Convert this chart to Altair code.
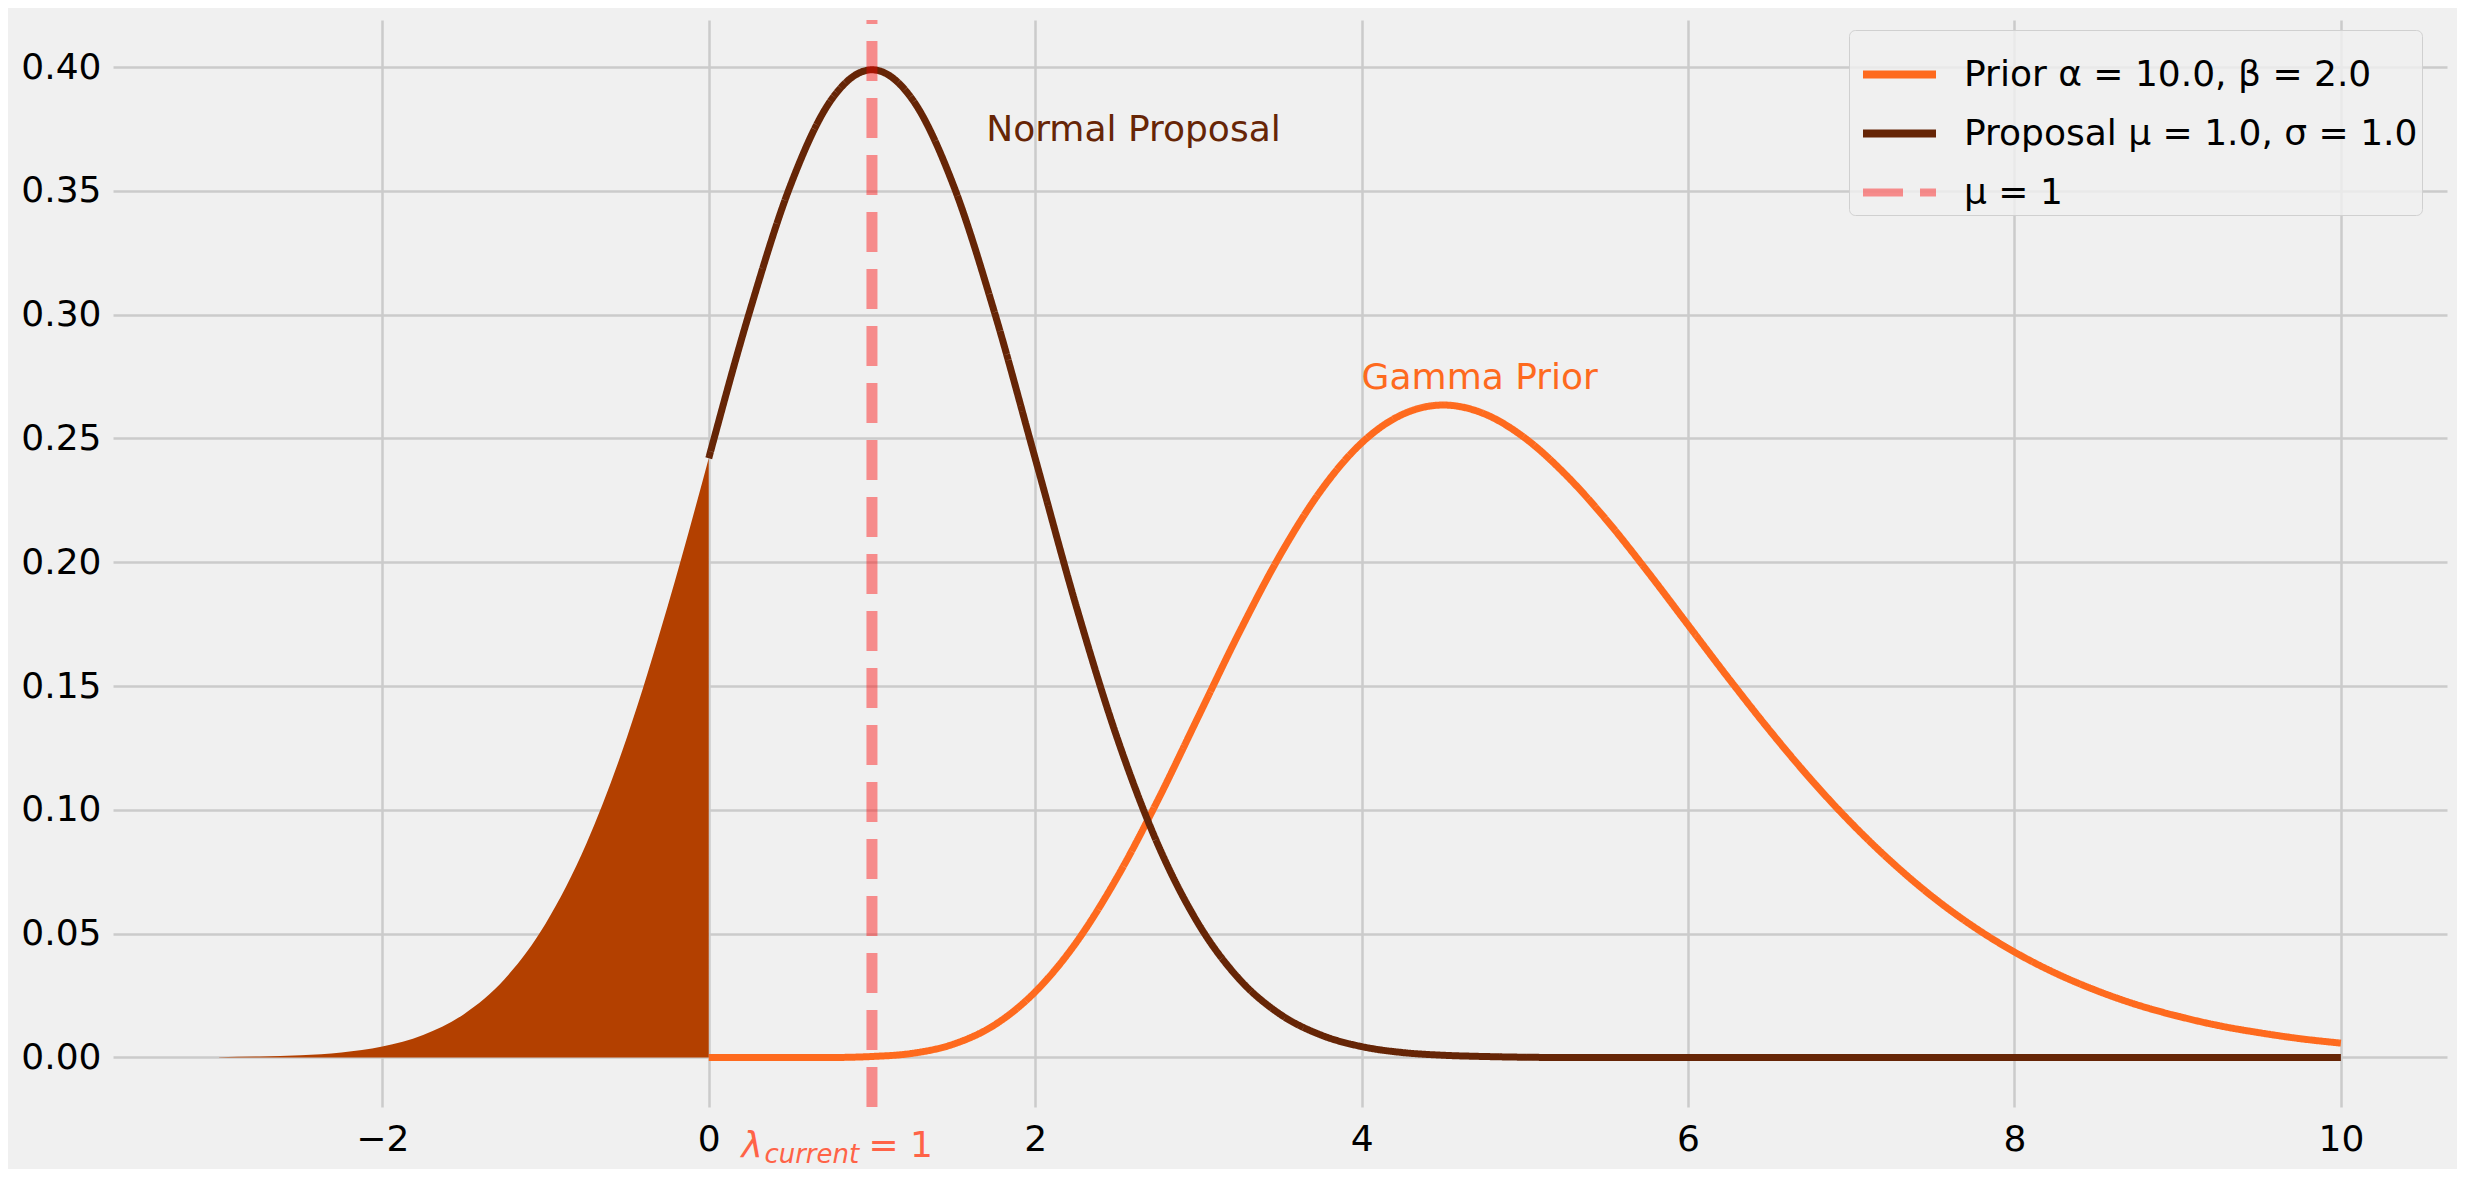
import altair as alt
import pandas as pd

# ---- data ----
FILL_X = [-3.0, -2.75, -2.5, -2.25, -2.0, -1.75, -1.5, -1.25, -1.0, -0.75, -0.5, -0.25, 0.0]
FILL_Y = [0.0001, 0.0004, 0.0009, 0.0020, 0.0044, 0.0091, 0.0175, 0.0317, 0.0540,
          0.0863, 0.1295, 0.1826, 0.2420]

CURVE_X = [0.0, 0.25, 0.5, 0.75, 1.0, 1.25, 1.5, 1.75, 2.0, 2.25, 2.5, 2.75, 3.0, 3.25,
           3.5, 3.75, 4.0, 4.25, 4.5, 4.75, 5.0, 5.25, 5.5, 5.75, 6.0, 6.25, 6.5, 6.75,
           7.0, 7.25, 7.5, 7.75, 8.0, 8.25, 8.5, 8.75, 9.0, 9.25, 9.5, 9.75, 10.0]
PRIOR = [0.0, 0.0, 0.0, 0.0, 0.0004, 0.0017, 0.0054, 0.0131, 0.0265, 0.0463, 0.0725,
         0.1037, 0.1377, 0.1716, 0.2028, 0.2289, 0.2482, 0.2597, 0.2635, 0.2600, 0.2502,
         0.2354, 0.2171, 0.1964, 0.1747, 0.1530, 0.1321, 0.1125, 0.0947, 0.0788, 0.0648,
         0.0528, 0.0426, 0.0341, 0.0271, 0.0213, 0.0167, 0.0129, 0.0100, 0.0076, 0.0058]
PROPOSAL = [0.2420, 0.3011, 0.3521, 0.3867, 0.3989, 0.3867, 0.3521, 0.3011, 0.2420,
            0.1826, 0.1295, 0.0863, 0.0540, 0.0317, 0.0175, 0.0091, 0.0044, 0.0020,
            0.0009, 0.0004, 0.0001, 0.0, 0.0, 0.0, 0.0, 0.0, 0.0, 0.0, 0.0, 0.0, 0.0,
            0.0, 0.0, 0.0, 0.0, 0.0, 0.0, 0.0, 0.0, 0.0, 0.0]

SERIES = ["Prior α = 10.0, β = 2.0", "Proposal μ = 1.0, σ = 1.0", "μ = 1"]
VLINE_X = [1.0]

ANNOT_PROPOSAL = {"x": [1.7], "y": [0.37], "label": ["Normal Proposal"]}
ANNOT_PRIOR = {"x": [4.0], "y": [0.27], "label": ["Gamma Prior"]}
LAMBDA_POS = {"x": [0.2], "y": [-0.04]}

X_TICKS = [-2, 0, 2, 4, 6, 8, 10]
Y_TICKS = [0.0, 0.05, 0.10, 0.15, 0.20, 0.25, 0.30, 0.35, 0.40]
X_DOMAIN = [-3.65, 10.65]
Y_DOMAIN = [-0.02, 0.419]

# ---- styles ----
ORANGE = "#fe6a1e"
BROWN = "#662506"
FILL = "#b34000"
VLINE = "rgba(255,0,0,0.42)"
TOMATO = "#ff6347"
FONT = "DejaVu Sans"
FS = 36

curves = pd.DataFrame({
    "x": CURVE_X + CURVE_X,
    "y": PRIOR + PROPOSAL,
    "series": [SERIES[0]] * len(CURVE_X) + [SERIES[1]] * len(CURVE_X),
})
fill_df = pd.DataFrame({"x": FILL_X, "y": FILL_Y})
vline_df = pd.DataFrame({"x": VLINE_X, "y": [Y_DOMAIN[0]], "y2": [Y_DOMAIN[1]],
                         "series": [SERIES[2]]})

xscale = alt.Scale(domain=X_DOMAIN, nice=False, zero=False)
yscale = alt.Scale(domain=Y_DOMAIN, nice=False, zero=False)
xaxis = alt.Axis(values=X_TICKS, title=None, format="d", labelPadding=15)
yaxis = alt.Axis(values=Y_TICKS, title=None, format=".2f", labelPadding=12)

legend = alt.Legend(
    title=None, orient="none", legendX=1736, legendY=10,
    symbolType="stroke", symbolSize=5329, symbolStrokeWidth=8,
    symbolOffset=6, labelOffset=24, padding=4, rowPadding=0,
    labelFontSize=FS, labelFont=FONT, labelColor="black", labelLimit=1000,
    fillColor="rgba(240,240,240,0.8)", strokeColor="#d0d0d0", cornerRadius=6,
)
color = alt.Color("series:N", scale=alt.Scale(domain=SERIES, range=[ORANGE, BROWN, VLINE]),
                  legend=legend)
dash = alt.StrokeDash("series:N", scale=alt.Scale(domain=SERIES, range=[[1, 0], [1, 0], [40, 17]]),
                      legend=legend)

lines = alt.Chart(curves).mark_line(strokeWidth=7, interpolate="monotone").encode(
    x=alt.X("x:Q", scale=xscale, axis=xaxis),
    y=alt.Y("y:Q", scale=yscale, axis=yaxis),
    color=color, strokeDash=dash,
)

area = alt.Chart(fill_df).mark_area(color=FILL, interpolate="monotone", opacity=1).encode(
    x="x:Q", y="y:Q", y2=alt.datum(0),
)

vline = alt.Chart(vline_df).mark_rule(strokeWidth=11).encode(
    x="x:Q", y="y:Q", y2="y2:Q", color=color, strokeDash=dash,
)

t_prop = alt.Chart(pd.DataFrame(ANNOT_PROPOSAL)).mark_text(
    align="left", baseline="alphabetic", fontSize=FS, font=FONT, color=BROWN
).encode(x="x:Q", y="y:Q", text="label:N")

t_prior = alt.Chart(pd.DataFrame(ANNOT_PRIOR)).mark_text(
    align="left", baseline="alphabetic", fontSize=FS, font=FONT, color=ORANGE
).encode(x="x:Q", y="y:Q", text="label:N")

lam_df = pd.DataFrame(LAMBDA_POS)
t_lam = alt.Chart(lam_df).mark_text(
    align="left", baseline="alphabetic", fontSize=FS, font=FONT, fontStyle="italic",
    color=TOMATO, text="λ"
).encode(x="x:Q", y="y:Q")
t_sub = alt.Chart(lam_df).mark_text(
    align="left", baseline="alphabetic", fontSize=26, font=FONT, fontStyle="italic",
    color=TOMATO, text="current", dx=23, dy=6
).encode(x="x:Q", y="y:Q")
t_eq = alt.Chart(lam_df).mark_text(
    align="left", baseline="alphabetic", fontSize=FS, font=FONT,
    color=TOMATO, text="= 1", dx=127
).encode(x="x:Q", y="y:Q")

chart = alt.layer(lines, area, vline, t_prop, t_prior, t_lam, t_sub, t_eq).properties(
    width=2334, height=1087, background="#f0f0f0",
    padding={"left": 105, "top": 12, "right": 10, "bottom": 62},
    autosize=alt.AutoSizeParams(type="none"),
).configure_view(stroke="transparent").configure_axis(
    grid=True, gridColor="#cbcbcb", gridWidth=2.5, domain=False, ticks=False,
    labelFontSize=FS, labelFont=FONT, labelColor="black",
)

chart.save("out.html", embed_options={"renderer": "svg", "actions": False})
